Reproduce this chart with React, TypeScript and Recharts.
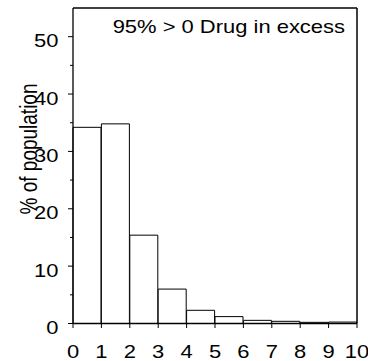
import React from 'react';
import { BarChart, Bar, XAxis, YAxis } from 'recharts';

const bins = ['0-1', '1-2', '2-3', '3-4', '4-5', '5-6', '6-7', '7-8', '8-9', '9-10'];
const binStarts = [0, 1, 2, 3, 4, 5, 6, 7, 8, 9];
const percents = [34.2, 34.8, 15.4, 6.0, 2.3, 1.2, 0.55, 0.38, 0.2, 0.25];
const xTicks = [0, 1, 2, 3, 4, 5, 6, 7, 8, 9, 10];
const yTicks = [0, 5, 10, 15, 20, 25, 30, 35, 40, 45, 50];
const xMax = 10;
const yMax = 55;
const titleText = '95% > 0 Drug in excess';
const yLabelText = '% of population';

const data = bins.map((b, i) => ({ bin: b, lo: binStarts[i], pct: percents[i] }));

const FONT = '"Liberation Sans", Arial, sans-serif';
const SX = 1.22;

function YTick(props: any) {
  const { x, y, payload } = props;
  const v = payload.value;
  const major = v % 10 === 0;
  return (
    <g>
      <line x1={x - (major ? 5 : 3)} x2={x} y1={y} y2={y} stroke="#000" strokeWidth={1} />
      {major && (
        <text
          transform={`translate(${x - 14.5},${y + 10.5}) scale(${SX},1)`}
          textAnchor="end"
          fontFamily={FONT}
          fontSize={18}
          fill="#000"
        >
          {v}
        </text>
      )}
    </g>
  );
}

function XTick(props: any) {
  const { x, y, payload } = props;
  return (
    <g>
      <line x1={x} x2={x} y1={y} y2={y + 4.5} stroke="#000" strokeWidth={1} />
      <text
        transform={`translate(${x},${y + 34}) scale(${SX},1)`}
        textAnchor="middle"
        fontFamily={FONT}
        fontSize={18}
        fill="#000"
      >
        {payload.value}
      </text>
    </g>
  );
}

function TitleLabel(props: any) {
  const vb = props.viewBox || {};
  const right = (vb.x ?? 73) + (vb.width ?? 284);
  const top = (vb.y ?? 7) + (vb.height ?? 1);
  return (
    <text
      transform={`translate(${right - 12},${top + 24.7}) scale(${SX},1)`}
      textAnchor="end"
      fontFamily={FONT}
      fontSize={18}
      fill="#000"
    >
      {titleText}
    </text>
  );
}

function YLabel() {
  return (
    <text
      transform={`translate(37,149) rotate(-90) scale(1,${SX})`}
      textAnchor="middle"
      fontFamily={FONT}
      fontSize={19}
      fill="#000"
    >
      {yLabelText}
    </text>
  );
}

export default function App() {
  return (
    <div style={{ position: 'absolute', left: 0, top: 0, width: 368, height: 361, background: '#fff' }}>
      <BarChart
        width={368}
        height={361}
        data={data}
        margin={{ top: 7, right: 0, left: 0, bottom: 0 }}
        barCategoryGap={0}
        barGap={0}
      >
        <XAxis xAxisId="cat" dataKey="bin" hide height={0} />
        <XAxis
          xAxisId="num"
          dataKey="lo"
          type="number"
          domain={[0, xMax]}
          ticks={xTicks}
          interval={0}
          allowDataOverflow
          height={37.5}
          tickSize={0}
          tickMargin={0}
          tickLine={false}
          axisLine={{ stroke: '#000', strokeWidth: 1.3 }}
          tick={<XTick />}
        />
        <XAxis
          xAxisId="top"
          dataKey="lo"
          orientation="top"
          type="number"
          domain={[0, xMax]}
          allowDataOverflow
          height={1}
          tick={false}
          tickLine={false}
          axisLine={{ stroke: '#000', strokeWidth: 1.3 }}
          label={<TitleLabel />}
        />
        <YAxis
          yAxisId="left"
          dataKey="pct"
          type="number"
          domain={[0, yMax]}
          ticks={yTicks}
          interval={0}
          allowDataOverflow
          width={73}
          tickSize={0}
          tickMargin={0}
          tickLine={false}
          axisLine={{ stroke: '#000', strokeWidth: 1.3 }}
          tick={<YTick />}
          label={<YLabel />}
        />
        <YAxis
          yAxisId="right"
          dataKey="pct"
          orientation="right"
          type="number"
          domain={[0, yMax]}
          ticks={[0]}
          allowDataOverflow
          width={11}
          tickSize={0}
          tick={false}
          tickLine={false}
          axisLine={{ stroke: '#000', strokeWidth: 1.5 }}
        />
        <Bar
          xAxisId="cat"
          yAxisId="left"
          dataKey="pct"
          fill="#fff"
          stroke="#000"
          strokeWidth={1}
          isAnimationActive={false}
        />
      </BarChart>
    </div>
  );
}
